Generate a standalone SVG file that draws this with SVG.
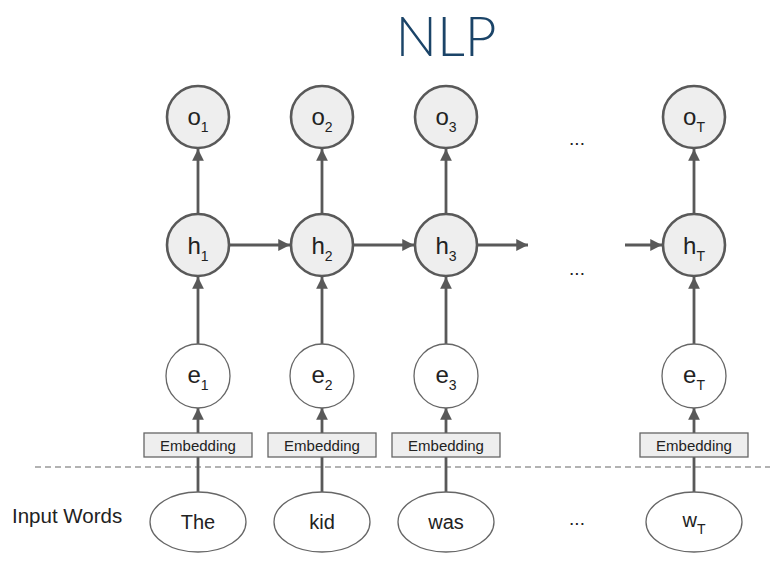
<svg xmlns="http://www.w3.org/2000/svg" width="770" height="561" viewBox="0 0 770 561">
<defs>
<marker id="ah" viewBox="0 0 10 10" refX="10" refY="5" markerWidth="4.6" markerHeight="4.2" orient="auto" markerUnits="strokeWidth">
<path d="M0,0 L10,5 L0,10 z" fill="#595959"/>
</marker>
</defs>
<style>
text{font-family:"Liberation Sans",Arial,sans-serif;fill:#222}
.st{fill:#eeeeee;stroke:#595959;stroke-width:2.6}
.em{fill:#ffffff;stroke:#666666;stroke-width:1.3}
.box{fill:#eeeeee;stroke:#666666;stroke-width:1.3}
.lbl{font-size:24px;text-anchor:middle}
.sub{font-size:14px}
.etxt{font-size:15px;text-anchor:middle}
.word{font-size:20px;text-anchor:middle}
.dots{font-size:19px;text-anchor:middle}
.c{stroke:#595959;stroke-width:2.8;fill:none}
.ca{stroke:#595959;stroke-width:2.8;fill:none;marker-end:url(#ah)}
</style>
<rect width="770" height="561" fill="#ffffff"/>
<text x="446" y="56" style="font-family:Lato,'Open Sans','Liberation Sans',sans-serif;font-weight:300;font-size:55px;fill:#1b4468" text-anchor="middle">NLP</text>
<line x1="35" y1="467" x2="770" y2="467" stroke="#666666" stroke-width="1.2" stroke-dasharray="6,4"/>
<text x="12" y="523" style="font-size:20.5px">Input Words</text>
<g id="connectors">
<line class="ca" x1="198" y1="214" x2="198" y2="149"/>
<line class="ca" x1="322" y1="214" x2="322" y2="149"/>
<line class="ca" x1="446" y1="214" x2="446" y2="149"/>
<line class="ca" x1="694" y1="214" x2="694" y2="149"/>
<line class="ca" x1="230" y1="245" x2="290" y2="245"/>
<line class="ca" x1="354" y1="245" x2="414" y2="245"/>
<line class="ca" x1="478" y1="245" x2="528" y2="245"/>
<line class="ca" x1="625" y1="245" x2="662" y2="245"/>
<line class="ca" x1="198" y1="344" x2="198" y2="277"/>
<line class="ca" x1="322" y1="344" x2="322" y2="277"/>
<line class="ca" x1="446" y1="344" x2="446" y2="277"/>
<line class="ca" x1="694" y1="344" x2="694" y2="277"/>
<line class="ca" x1="198" y1="433" x2="198" y2="408"/>
<line class="ca" x1="322" y1="433" x2="322" y2="408"/>
<line class="ca" x1="446" y1="433" x2="446" y2="408"/>
<line class="ca" x1="694" y1="433" x2="694" y2="408"/>
<line class="c" x1="198" y1="492" x2="198" y2="457"/>
<line class="c" x1="322" y1="492" x2="322" y2="457"/>
<line class="c" x1="446" y1="492" x2="446" y2="457"/>
<line class="c" x1="694" y1="492" x2="694" y2="457"/>
</g>
<g id="o1"><circle class="st" cx="198" cy="117" r="31"/><text class="lbl" x="198" y="125">o<tspan class="sub" dy="7">1</tspan></text></g>
<g id="o2"><circle class="st" cx="322" cy="117" r="31"/><text class="lbl" x="322" y="125">o<tspan class="sub" dy="7">2</tspan></text></g>
<g id="o3"><circle class="st" cx="446" cy="117" r="31"/><text class="lbl" x="446" y="125">o<tspan class="sub" dy="7">3</tspan></text></g>
<g id="oT"><circle class="st" cx="694" cy="117" r="31"/><text class="lbl" x="694" y="125">o<tspan class="sub" dy="7">T</tspan></text></g>
<g id="h1"><circle class="st" cx="198" cy="245" r="31"/><text class="lbl" x="198" y="254">h<tspan class="sub" dy="7">1</tspan></text></g>
<g id="h2"><circle class="st" cx="322" cy="245" r="31"/><text class="lbl" x="322" y="254">h<tspan class="sub" dy="7">2</tspan></text></g>
<g id="h3"><circle class="st" cx="446" cy="245" r="31"/><text class="lbl" x="446" y="254">h<tspan class="sub" dy="7">3</tspan></text></g>
<g id="hT"><circle class="st" cx="694" cy="245" r="31"/><text class="lbl" x="694" y="254">h<tspan class="sub" dy="7">T</tspan></text></g>
<g id="e1"><circle class="em" cx="198" cy="376" r="32"/><text class="lbl" x="198" y="383">e<tspan class="sub" dy="7">1</tspan></text></g>
<g id="e2"><circle class="em" cx="322" cy="376" r="32"/><text class="lbl" x="322" y="383">e<tspan class="sub" dy="7">2</tspan></text></g>
<g id="e3"><circle class="em" cx="446" cy="376" r="32"/><text class="lbl" x="446" y="383">e<tspan class="sub" dy="7">3</tspan></text></g>
<g id="eT"><circle class="em" cx="694" cy="376" r="32"/><text class="lbl" x="694" y="383">e<tspan class="sub" dy="7">T</tspan></text></g>
<g id="emb1"><rect class="box" x="144" y="433" width="108" height="24"/><text class="etxt" x="198" y="450.5">Embedding</text></g>
<g id="emb2"><rect class="box" x="268" y="433" width="108" height="24"/><text class="etxt" x="322" y="450.5">Embedding</text></g>
<g id="emb3"><rect class="box" x="392" y="433" width="108" height="24"/><text class="etxt" x="446" y="450.5">Embedding</text></g>
<g id="embT"><rect class="box" x="640" y="433" width="108" height="24"/><text class="etxt" x="694" y="450.5">Embedding</text></g>
<g id="w1"><ellipse class="em" cx="198" cy="522" rx="48" ry="30"/><text class="word" x="198" y="529">The</text></g>
<g id="w2"><ellipse class="em" cx="322" cy="522" rx="48" ry="30"/><text class="word" x="322" y="529">kid</text></g>
<g id="w3"><ellipse class="em" cx="446" cy="522" rx="48" ry="30"/><text class="word" x="446" y="529">was</text></g>
<g id="wT"><ellipse class="em" cx="694" cy="522" rx="48" ry="30"/><text class="word" x="694" y="527">w<tspan class="sub" dy="7">T</tspan></text></g>
<text class="dots" x="577" y="145">...</text>
<text class="dots" x="577" y="275">...</text>
<text class="dots" x="577" y="525">...</text>
</svg>
